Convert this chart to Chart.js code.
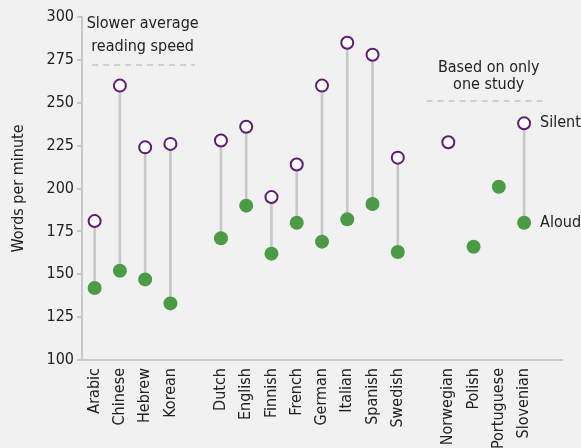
<!DOCTYPE html>
<html>
<head>
<meta charset="utf-8">
<script src="https://cdn.jsdelivr.net/npm/chart.js@4/dist/chart.umd.min.js"></script>
<style>
  html, body { margin: 0; padding: 0; background: #f1f1f1; }
  #wrap { width: 581px; height: 448px; position: relative; }
</style>
</head>
<body>
<div id="wrap"><canvas id="chart"></canvas></div>
<script>
// Languages, with blank slots for the gaps between groups
const categories = ["Arabic", "Chinese", "Hebrew", "Korean", "",
  "Dutch", "English", "Finnish", "French", "German", "Italian", "Spanish", "Swedish", "",
  "Norwegian", "Polish", "Portuguese", "Slovenian", ""];
const silentWpm = [181, 260, 224, 226, null, 228, 236, 195, 214, 260, 285, 278, 218, null, 227, null, null, 238, null];
const aloudWpm = [142, 152, 147, 133, null, 171, 190, 162, 180, 169, 182, 191, 163, null, null, 166, 201, 180, null];
const yTicks = [100, 125, 150, 175, 200, 225, 250, 275, 300];
const slowerNote = ["Slower average", "reading speed"];
const singleNote = ["Based on only", "one study"];

const FONT = "'Liberation Sans Narrow', 'DejaVu Sans Condensed', sans-serif";
const TEXT = "#222222";
const PURPLE = "#5f1a74";
const GREEN = "#4b9b46";
const STEM = "#c8c8c8";

// stems drawn as thin floating bars between aloud and silent
const stems = categories.map((c, i) =>
  silentWpm[i] != null && aloudWpm[i] != null ? [aloudWpm[i], silentWpm[i]] : null);

const notesPlugin = {
  id: "notes",
  afterDatasetsDraw(chart) {
    const { ctx, scales: { x, y } } = chart;
    ctx.save();
    ctx.font = "16px " + FONT;
    ctx.fillStyle = TEXT;
    ctx.textBaseline = "middle";

    function dashed(i0, i1, v) {
      ctx.save();
      ctx.strokeStyle = "#c4c4c4";
      ctx.lineWidth = 1.5;
      ctx.setLineDash([6, 5]);
      ctx.beginPath();
      ctx.moveTo(x.getPixelForValue(i0), y.getPixelForValue(v));
      ctx.lineTo(x.getPixelForValue(i1), y.getPixelForValue(v));
      ctx.stroke();
      ctx.restore();
    }

    // slower average note
    dashed(-0.1, 3.97, 272);
    ctx.textAlign = "center";
    let lineY = y.getPixelForValue(272);
    ctx.fillText(slowerNote[0], x.getPixelForValue(1.9), lineY - 41);
    ctx.fillText(slowerNote[1], x.getPixelForValue(1.9), lineY - 18);

    // single study note
    dashed(13.14, 17.9, 251);
    lineY = y.getPixelForValue(251);
    ctx.fillText(singleNote[0], x.getPixelForValue(15.6), lineY - 33);
    ctx.fillText(singleNote[1], x.getPixelForValue(15.6), lineY - 16);

    // series labels next to Slovenian
    const s = 17;
    ctx.textAlign = "left";
    ctx.fillText("Silent", x.getPixelForValue(s) + 16, y.getPixelForValue(silentWpm[s]));
    ctx.fillText("Aloud", x.getPixelForValue(s) + 16, y.getPixelForValue(aloudWpm[s]));
    ctx.restore();
  }
};

new Chart(document.getElementById("chart"), {
  data: {
    labels: categories,
    datasets: [
      {
        type: "bar",
        label: "stem",
        data: stems,
        backgroundColor: STEM,
        barThickness: 2,
        order: 3
      },
      {
        type: "line",
        label: "Aloud",
        data: aloudWpm,
        showLine: false,
        pointRadius: 7,
        pointBackgroundColor: GREEN,
        pointBorderColor: GREEN,
        pointBorderWidth: 0,
        order: 2
      },
      {
        type: "line",
        label: "Silent",
        data: silentWpm,
        showLine: false,
        pointRadius: 6,
        pointBackgroundColor: "#ffffff",
        pointBorderColor: PURPLE,
        pointBorderWidth: 2,
        order: 1
      }
    ]
  },
  options: {
    responsive: true,
    maintainAspectRatio: false,
    animation: false,
    layout: { padding: { top: 17, right: 19, left: 0, bottom: 0 } },
    plugins: {
      legend: { display: false },
      tooltip: { enabled: false }
    },
    scales: {
      x: {
        type: "category",
        offset: true,
        grid: { display: false, drawTicks: false },
        border: { color: STEM, width: 2 },
        ticks: {
          color: TEXT,
          font: { family: FONT, size: 16 },
          minRotation: 90,
          maxRotation: 90,
          autoSkip: false,
          padding: 8
        },
        afterFit(scale) { scale.height = 88; }
      },
      y: {
        min: 100,
        max: 300,
        afterBuildTicks(scale) { scale.ticks = yTicks.map(v => ({ value: v })); },
        grid: { drawOnChartArea: false, drawTicks: true, tickLength: 5, color: STEM, lineWidth: 2 },
        border: { color: STEM, width: 2 },
        ticks: {
          color: TEXT,
          font: { family: FONT, size: 16 },
          padding: 3
        },
        title: {
          display: true,
          text: "Words per minute",
          color: TEXT,
          font: { family: FONT, size: 16 },
          padding: { top: 9, bottom: 0 }
        },
        afterFit(scale) { scale.width = 82; }
      }
    }
  },
  plugins: [notesPlugin]
});
</script>
</body>
</html>
